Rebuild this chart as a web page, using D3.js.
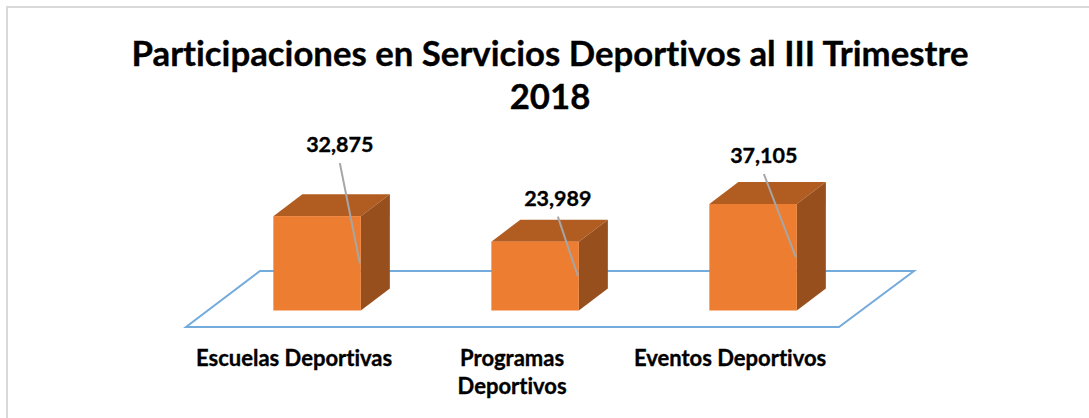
<!DOCTYPE html>
<html>
<head>
<meta charset="utf-8">
<script src="https://cdn.jsdelivr.net/npm/d3@7/dist/d3.min.js"></script>
<style>
  html, body { margin: 0; padding: 0; background: #fff; }
  svg { display: block; }
  text {
    font-family: Lato, "Open Sans", sans-serif;
    font-weight: 700;
    font-variant-ligatures: none;
    fill: #000;
    stroke: #000;
    stroke-width: 0.35;
  }
</style>
</head>
<body>
<div id="chart"></div>
<script>
const titleLines = ['Participaciones en Servicios Deportivos al III Trimestre', '2018'];
const categories = ['Escuelas Deportivas', 'Programas Deportivos', 'Eventos Deportivos'];
const participaciones = [32875, 23989, 37105];

const width = 1089;
const height = 418;

// floor of the fake 3d plot
const floor = { left: 186, right: 840, front: 327, back: 271, shear: 75 };
const baseY = 310.5;
const depth = { x: 29, y: 22 };
const barWidth = 87.5;

// where the value labels sit, relative to the bar's front right corner
const labelOffsets = [[-21, -72], [-21, -44], [-33, -49]];
// category labels wider than this break onto two lines
const wrapWidth = 200;

const svg = d3.select('#chart').append('svg')
  .attr('width', width)
  .attr('height', height);

// chart border, only left and top show in the cropped original
svg.append('path')
  .attr('d', d3.line()([[7, height], [7, 7], [width, 7]]))
  .attr('fill', 'none')
  .attr('stroke', '#d9d9d9')
  .attr('stroke-width', 2);

svg.append('g')
  .selectAll('text')
  .data(titleLines)
  .join('text')
  .attr('x', 550)
  .attr('y', (d, i) => 66 + i * 43)
  .attr('text-anchor', 'middle')
  .attr('font-size', 34.75)
  .text((d) => d);

const x = d3.scaleBand()
  .domain(categories)
  .range([floor.left, floor.right]);

const y = d3.scaleLinear()
  .domain([0, 37105])
  .range([baseY, 204]);

// how far a bar is pushed right for standing further back on the floor
const shift = (floor.front - baseY) * (floor.shear / (floor.front - floor.back));

svg.append('path')
  .attr('d', d3.line()([
    [floor.left, floor.front],
    [floor.right - 1, floor.front],
    [floor.right - 1 + floor.shear, floor.back],
    [floor.left + floor.shear - 1, floor.back],
  ]) + 'Z')
  .attr('fill', 'none')
  .attr('stroke', '#74abdd')
  .attr('stroke-width', 2);

const barLeft = (d) => x(d) + (x.bandwidth() - barWidth) / 2 + shift;

const bars = svg.append('g')
  .selectAll('g')
  .data(categories.map((name, i) => ({ name, value: participaciones[i], offset: labelOffsets[i] })))
  .join('g');

// top face
bars.append('path')
  .attr('d', (d) => {
    const l = barLeft(d.name);
    const t = y(d.value);
    return d3.line()([[l, t], [l + barWidth, t], [l + barWidth + depth.x, t - depth.y], [l + depth.x, t - depth.y]]) + 'Z';
  })
  .attr('fill', '#b15d22');

// side face
bars.append('path')
  .attr('d', (d) => {
    const r = barLeft(d.name) + barWidth;
    const t = y(d.value);
    return d3.line()([[r, t], [r + depth.x, t - depth.y], [r + depth.x, baseY - depth.y], [r, baseY]]) + 'Z';
  })
  .attr('fill', '#97501d');

// front face
bars.append('rect')
  .attr('x', (d) => barLeft(d.name))
  .attr('y', (d) => y(d.value))
  .attr('width', barWidth)
  .attr('height', (d) => baseY - y(d.value))
  .attr('fill', '#ed7d31');

// leader lines go from under the label to the middle of the front right edge
bars.append('line')
  .attr('x1', (d) => barLeft(d.name) + barWidth + d.offset[0])
  .attr('y1', (d) => y(d.value) + d.offset[1] + 19)
  .attr('x2', (d) => barLeft(d.name) + barWidth - 1)
  .attr('y2', (d) => (y(d.value) + baseY) / 2)
  .attr('stroke', '#a6a6a6')
  .attr('stroke-width', 2);

bars.append('text')
  .attr('x', (d) => barLeft(d.name) + barWidth + d.offset[0])
  .attr('y', (d) => y(d.value) + d.offset[1] + 8)
  .attr('text-anchor', 'middle')
  .attr('font-size', 21.5)
  .text((d) => d3.format(',')(d.value));

// category labels, wrapped on words when too wide
svg.append('g')
  .selectAll('text')
  .data(categories)
  .join('text')
  .attr('text-anchor', 'middle')
  .attr('font-size', 22)
  .each(function (d) {
    const el = d3.select(this);
    const cx = barLeft(d) + barWidth / 2 - 23;
    el.text(d);
    const lines = this.getComputedTextLength() > wrapWidth ? d.split(' ') : [d];
    el.text(null);
    lines.forEach((line, i) => {
      el.append('tspan')
        .attr('x', cx)
        .attr('y', 366 + i * 28)
        .text(line);
    });
  });
</script>
</body>
</html>
